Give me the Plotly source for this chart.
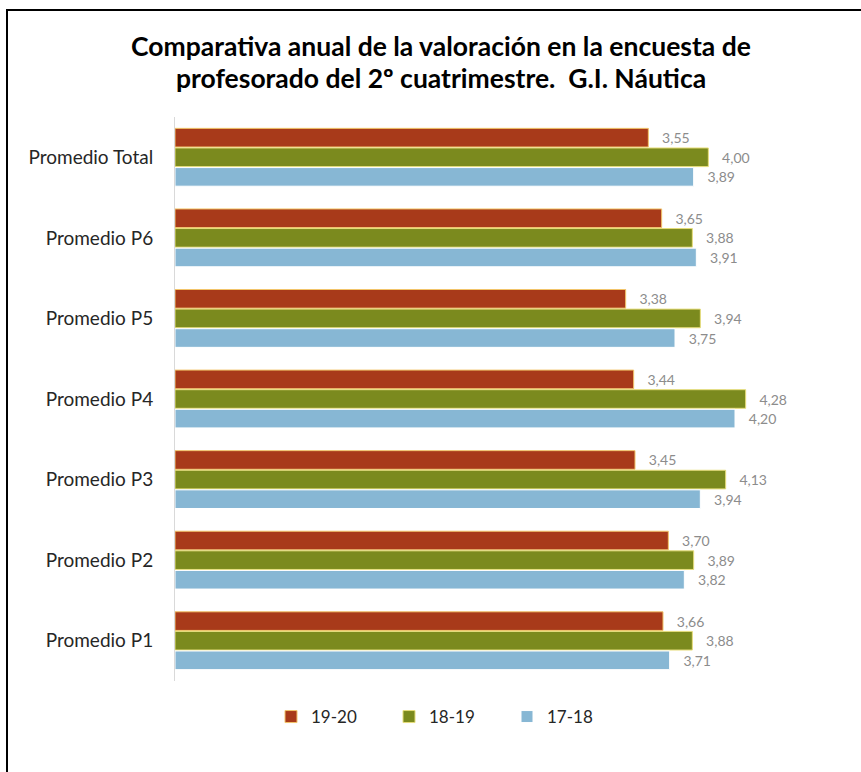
import plotly.graph_objects as go

categories = ["Promedio Total", "Promedio P6", "Promedio P5", "Promedio P4",
              "Promedio P3", "Promedio P2", "Promedio P1"]
series_names = ["19-20", "18-19", "17-18"]
v_19_20 = [3.55, 3.65, 3.38, 3.44, 3.45, 3.70, 3.66]
v_18_19 = [4.00, 3.88, 3.94, 4.28, 4.13, 3.89, 3.88]
v_17_18 = [3.89, 3.91, 3.75, 4.20, 3.94, 3.82, 3.71]

title_line1 = "Comparativa anual de la valoración en la encuesta de"
title_line2 = "profesorado del 2º cuatrimestre.  G.I. Náutica"

series_values = [v_19_20, v_18_19, v_17_18]
colors = ["#A83A1A", "#7B8A1E", "#87B7D4"]
outline = ["#F2C46A", "#E6DD7A", "#FFFFFF"]

FONT = "Lato, Carlito, Calibri, sans-serif"

fig = go.Figure()
for name, vals, c, oc in zip(series_names, series_values, colors, outline):
    fig.add_trace(go.Bar(
        y=categories, x=vals, name=name, orientation="h",
        marker=dict(color=c, line=dict(color=oc, width=1)),
        texttemplate="   %{x:.2f}", textposition="outside",
        textfont=dict(family=FONT, size=14, color="#8C8C8C"),
        cliponaxis=False,
    ))

W, H = 861, 772
L, R, T, B = 175, 86, 117, 91
pw, ph = W - L - R, H - T - B

def px_x(p):
    return (p - L) / pw

def px_y(p):
    return (H - B - p) / ph

fig.update_layout(
    width=W, height=H,
    margin=dict(l=L, r=R, t=T, b=B),
    paper_bgcolor="white", plot_bgcolor="white",
    separators=",.",
    barmode="group", bargap=0.27, bargroupgap=0.05,
    font=dict(family=FONT, color="#262626"),
    title=dict(
        text="<b>" + title_line1 + "</b>",
        font=dict(family=FONT, size=26.5, color="#000000"),
        x=441 / W, xanchor="center", xref="container",
        y=1 - 47 / H, yanchor="middle", yref="container",
    ),
    annotations=[dict(
        text="<b>" + title_line2 + "</b>",
        font=dict(family=FONT, size=26.5, color="#000000"),
        xref="paper", yref="paper", x=px_x(441), y=px_y(78),
        xanchor="center", yanchor="middle", showarrow=False,
    )],
    xaxis=dict(range=[0, 4.5], visible=False, showgrid=False, zeroline=False),
    yaxis=dict(
        autorange="reversed", showline=True, linecolor="#D9D9D9", linewidth=1,
        ticks="", ticklabelstandoff=17,
        tickfont=dict(family=FONT, size=19, color="#262626"),
        showgrid=False,
    ),
    legend=dict(
        orientation="h", x=px_x(448), xanchor="center",
        y=px_y(717), yanchor="middle",
        font=dict(family=FONT, size=17, color="#262626"),
        entrywidth=73, entrywidthmode="pixels", itemwidth=30,
        itemclick=False,
    ),
    showlegend=True,
    shapes=[dict(
        type="rect", xref="paper", yref="paper",
        x0=px_x(7), x1=px_x(880), y0=px_y(800), y1=px_y(10),
        line=dict(color="black", width=2), fillcolor="rgba(0,0,0,0)",
        layer="above",
    )],
)

fig.write_html("out.html", config={"displayModeBar": False},
               post_script="document.body.style.margin='0';")
